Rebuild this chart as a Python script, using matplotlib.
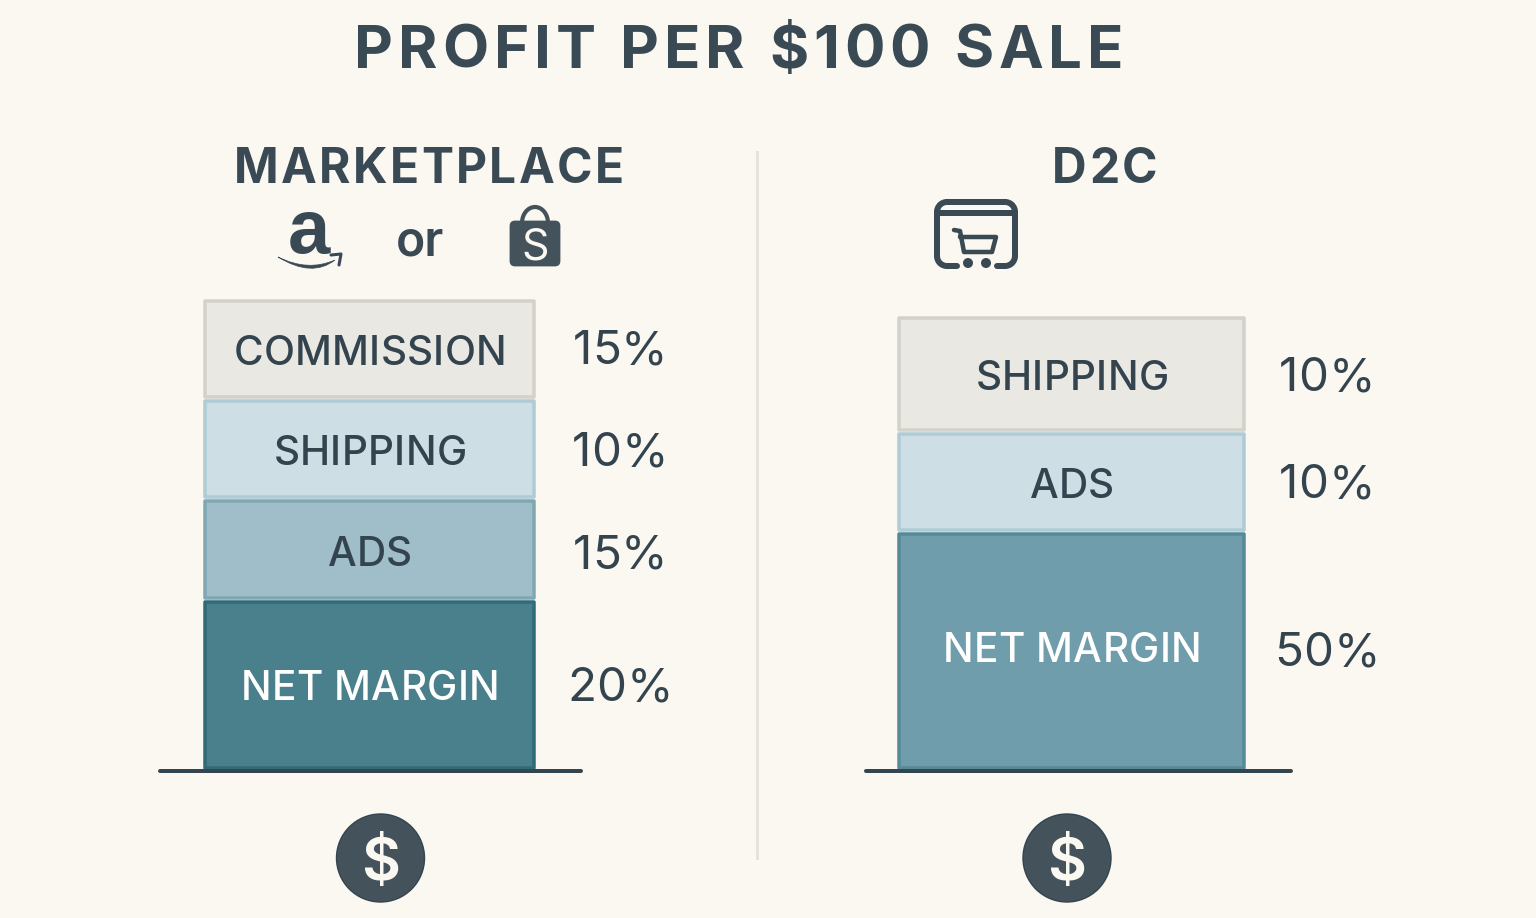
import matplotlib
matplotlib.use('Agg')
import matplotlib.pyplot as plt
from matplotlib.patches import Circle, FancyBboxPatch, PathPatch, Arc
from matplotlib.path import Path
from matplotlib.text import Text

plt.rcParams['font.family'] = ['Inter', 'DejaVu Sans']

title = 'PROFIT PER $100 SALE'
left_name = 'MARKETPLACE'
right_name = 'D2C'

# top to bottom, heights are the drawn ones, they do not follow the percentages
left_labels = ['COMMISSION', 'SHIPPING', 'ADS', 'NET MARGIN']
left_values = ['15%', '10%', '15%', '20%']
left_heights = [100, 100, 101, 170]
right_labels = ['SHIPPING', 'ADS', 'NET MARGIN']
right_values = ['10%', '10%', '50%']
right_heights = [116, 100, 238]

left_fills = ['#E9E8E3', '#CDDFE4', '#A0BEC9', '#4A808C']
left_edges = ['#D2D2CB', '#AFCCD6', '#7FA8B2', '#2F6C78']
right_fills = ['#E9E8E3', '#CDDFE4', '#6F9DAB']
right_edges = ['#D2D2CB', '#AFCCD6', '#568A99']

BG = '#FBF7F1'
DARK = '#3A4A55'
PX = 0.72  # pixels to points at dpi 100
BASE = 770

fig = plt.figure(figsize=(15.36, 9.18), dpi=100, facecolor=BG)
ax = fig.add_axes([0, 0, 1, 1])
ax.set_xlim(0, 1536)
ax.set_ylim(918, 0)
ax.axis('off')


class TrackedText(Text):
    # one string, drawn letter by letter with extra spacing (track in px)
    track = 0

    def draw(self, renderer):
        s = self.get_text()
        fp = self.get_fontproperties()
        w = lambda t: renderer.get_text_width_height_descent(t, fp, False)[0] if t else 0
        px, py = self.get_transform().transform(self.get_position())
        left = px - (w(s) + self.track * (len(s) - 1)) / 2
        for i, ch in enumerate(s):
            t = Text(left + w(s[:i + 1]) - w(ch) + self.track * i, py, ch, ha='left', va='baseline',
                     color=self.get_color(), fontproperties=fp, transform=None, figure=self.get_figure())
            t.draw(renderer)


def caps(x, yc, s, size, color=DARK, weight='normal', track=0):
    # size in px, yc is the middle of the capitals
    t = TrackedText(x, yc + size * 0.364, s, ha='center', va='baseline', fontsize=size * PX,
                    color=color, fontweight=weight)
    t.track = track
    ax.add_artist(t)


def stack(x0, x1, heights, fills, edges, labels, values, label_x, value_x, shift):
    top = BASE - sum(heights)
    for i in range(len(heights)):
        h = heights[i]
        ax.bar((x0 + x1) / 2, h - 4, width=x1 - x0 - 4, bottom=top + 2, color=fills[i],
               edgecolor=edges[i], linewidth=3.5 * PX, joinstyle='round', zorder=2)
        yc = top + h / 2
        col = 'white' if labels[i] == 'NET MARGIN' else '#34444F'
        caps(label_x, yc + shift[i][0], labels[i], 40.5, color=col, weight='medium', track=0.3)
        caps(value_x, yc + shift[i][1], values[i], 47.5, color='#34444F')
        top += h


stack(203, 536, left_heights, left_fills, left_edges, left_labels, left_values, 370, 620,
      [(1, -2), (1, 0), (2, 2), (0, -1)])
stack(897, 1246, right_heights, right_fills, right_edges, right_labels, right_values, 1072, 1327,
      [(1, 0), (1, -1), (-4, -2)])

# titles
caps(739, 46, title, 60, weight='bold', track=5)
caps(429, 166, left_name, 48, weight='bold', track=2.4)
caps(1105, 166, right_name, 48, weight='bold', track=2.5)

# divider and baselines
ax.plot([757, 757], [152, 858], color='#E6E3DB', lw=3 * PX, zorder=1)
ax.plot([160, 581], [771, 771], color='#33454F', lw=4 * PX, solid_capstyle='round', zorder=3)
ax.plot([866, 1291], [771, 771], color='#33454F', lw=4 * PX, solid_capstyle='round', zorder=3)

# dollar coins
for cx in [380.5, 1067]:
    ax.add_patch(Circle((cx, 858), 44, facecolor='#43525B', edgecolor='#33454F', lw=1, zorder=3))
    caps(cx, 858, '$', 60, color='#FBF7F1', weight='semibold')

# marketplace icons
ax.text(309, 253, 'a', ha='center', va='baseline', fontsize=76 * PX, fontweight='bold', color=DARK,
        family=['Liberation Sans'])
smile = Path([(278, 257), (308, 272), (335, 260), (312, 278), (278, 257)],
             [Path.MOVETO, Path.CURVE3, Path.CURVE3, Path.CURVE3, Path.CURVE3])
ax.add_patch(PathPatch(smile, facecolor=DARK, edgecolor=DARK, lw=0.5))
ax.plot([331, 341, 339], [255, 254, 265], color=DARK, lw=2.2, solid_capstyle='round')
ax.text(420, 256, 'or', ha='center', va='baseline', fontsize=48 * PX, fontweight='semibold', color=DARK)

ax.add_patch(FancyBboxPatch((511, 222), 48, 43, boxstyle='round,pad=0,rounding_size=4',
                            facecolor='#43525B', edgecolor='#43525B', lw=2))
ax.add_patch(Arc((535, 223), 26, 32, theta1=180, theta2=360, color='#43525B', lw=3))
caps(535, 244, 'S', 43, color='#FBF7F1')

# d2c shop icon
lw = 6 * PX
r = 10
icon = dict(color=DARK, lw=lw, solid_capstyle='round', solid_joinstyle='round')
ax.plot([957, 937 + r], [266, 266], **icon)
ax.add_patch(Arc((937 + r, 266 - r), 2 * r, 2 * r, theta1=90, theta2=180, color=DARK, lw=lw))
ax.plot([937, 937], [266 - r, 202 + r], **icon)
ax.add_patch(Arc((937 + r, 202 + r), 2 * r, 2 * r, theta1=180, theta2=270, color=DARK, lw=lw))
ax.plot([937 + r, 1015 - r], [202, 202], **icon)
ax.add_patch(Arc((1015 - r, 202 + r), 2 * r, 2 * r, theta1=270, theta2=360, color=DARK, lw=lw))
ax.plot([1015, 1015], [202 + r, 266 - r], **icon)
ax.add_patch(Arc((1015 - r, 266 - r), 2 * r, 2 * r, theta1=0, theta2=90, color=DARK, lw=lw))
ax.plot([1015 - r, 997], [266, 266], **icon)
ax.plot([937, 1015], [213, 213], **icon)
ax.plot([954, 960, 964, 992, 996, 960], [230, 231, 252, 252, 237, 237],
        color=DARK, lw=4.5 * PX, solid_capstyle='round', solid_joinstyle='round')
ax.add_patch(Circle((968, 263), 4.3, color=DARK))
ax.add_patch(Circle((986, 263), 4.3, color=DARK))

fig.savefig('out.png', dpi=100, facecolor=BG)
